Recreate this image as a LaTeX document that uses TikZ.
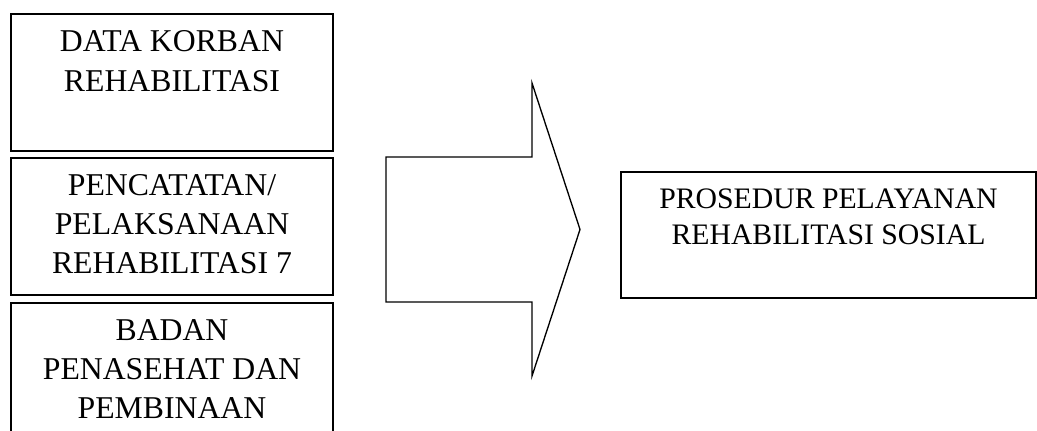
\documentclass[tikz,border=0pt]{standalone}
\usepackage{fontspec}
\setmainfont{Liberation Serif}
\usetikzlibrary{shapes,arrows,positioning}

\begin{document}
\begin{tikzpicture}
                [
                    boxnode/.style={rectangle, draw=black, line width=1.5pt, minimum width=241.5pt, minimum height=102.75pt},
                    widebox/.style={rectangle, draw=black, line width=1.5pt, minimum width=311.25pt, minimum height=94.5pt},
                    boxtext/.style={align=center, inner sep=0pt, anchor=base, font=\fontsize{23.8}{29.6}\selectfont},
                    widetext/.style={align=center, inner sep=0pt, anchor=base, font=\fontsize{22.3}{27.5}\selectfont},
                    bigarrow/.style={draw=black, line width=1pt, line join=miter}
                ]
                \useasboundingbox (0pt,0pt) rectangle (777.75pt,-323.25pt);

                \node [boxnode, anchor=north west] (data) at (7.5pt,-9.75pt) {};
                \node [boxnode] (catat) [below=3.75pt of data] {};
                \node [boxnode, minimum height=112.5pt] (badan) [below=4.5pt of catat] {};
                \node [widebox, anchor=north west] (prosedur) at (465pt,-128.25pt) {};

                % base anchor sits on the last line
                \node [boxtext] (datatxt) at ([yshift=-58.85pt]data.north) {DATA KORBAN\\REHABILITASI};
                \node [boxtext] (catattxt) at ([yshift=-87.7pt]catat.north) {PENCATATAN/\\PELAKSANAAN\\REHABILITASI 7};
                \node [boxtext] (badantxt) at ([yshift=-87.7pt]badan.north) {BADAN\\PENASEHAT DAN\\PEMBINAAN};
                \node [widetext] (prosedurtxt) at ([yshift=-55.25pt]prosedur.north) {PROSEDUR PELAYANAN\\REHABILITASI SOSIAL};

                \draw [bigarrow] (289.5pt,-117.75pt) -- (399pt,-117.75pt) -- (399pt,-62.25pt)
                    -- (435pt,-172.1pt) -- (399pt,-282pt) -- (399pt,-226.5pt)
                    -- (289.5pt,-226.5pt) -- cycle;

            \end{tikzpicture}
\end{document}
